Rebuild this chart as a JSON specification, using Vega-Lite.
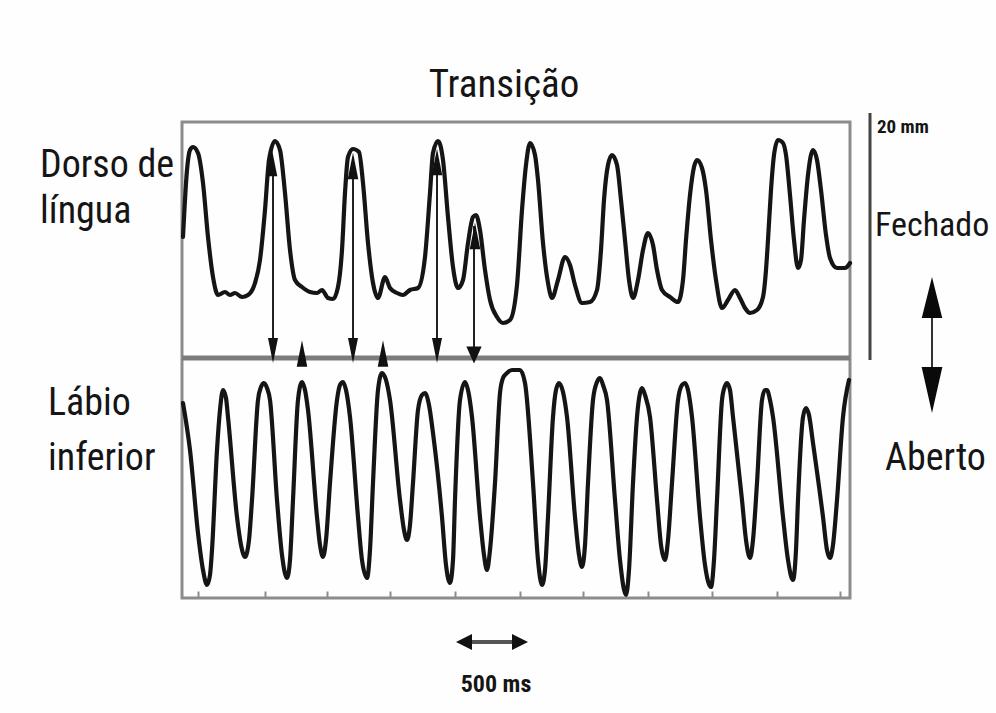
{
  "$schema": "https://vega.github.io/schema/vega-lite/v6.json",
  "width": 668,
  "height": 476,
  "autosize": {"type": "none"},
  "padding": {"left": 182, "top": 122, "right": 146, "bottom": 115},
  "background": "#fefefe",
  "config": {
    "view": {"stroke": "#8c8c8c", "strokeWidth": 3},
    "font": "Roboto Condensed, Liberation Sans"
  },
  "datasets": {
    "tongue": [
      {"t":8,"v":361},{"t":40,"v":428},{"t":64,"v":448},{"t":88,"v":451},{"t":128,"v":445},{"t":168,"v":415},{"t":208,"v":361},{"t":248,"v":321},{"t":288,"v":303},{"t":344,"v":306},{"t":384,"v":303},{"t":424,"v":305},{"t":480,"v":301},{"t":528,"v":303},{"t":584,"v":315},{"t":624,"v":338},{"t":664,"v":388},{"t":696,"v":438},{"t":744,"v":457},{"t":784,"v":448},{"t":824,"v":405},{"t":864,"v":348},{"t":904,"v":318},{"t":960,"v":311},{"t":1024,"v":306},{"t":1080,"v":305},{"t":1120,"v":308},{"t":1168,"v":300},{"t":1208,"v":299},{"t":1248,"v":311},{"t":1280,"v":348},{"t":1304,"v":405},{"t":1328,"v":441},{"t":1368,"v":449},{"t":1416,"v":446},{"t":1448,"v":415},{"t":1488,"v":355},{"t":1528,"v":315},{"t":1568,"v":300},{"t":1624,"v":321},{"t":1664,"v":310},{"t":1720,"v":305},{"t":1768,"v":303},{"t":1824,"v":308},{"t":1888,"v":310},{"t":1944,"v":341},{"t":1984,"v":405},{"t":2008,"v":445},{"t":2048,"v":457},{"t":2088,"v":438},{"t":2128,"v":381},{"t":2168,"v":331},{"t":2208,"v":310},{"t":2248,"v":318},{"t":2288,"v":355},{"t":2328,"v":381},{"t":2352,"v":383},{"t":2384,"v":368},{"t":2424,"v":328},{"t":2464,"v":298},{"t":2520,"v":281},{"t":2568,"v":275},{"t":2624,"v":278},{"t":2680,"v":313},{"t":2720,"v":388},{"t":2752,"v":433},{"t":2784,"v":455},{"t":2824,"v":443},{"t":2848,"v":418},{"t":2888,"v":355},{"t":2928,"v":315},{"t":2960,"v":300},{"t":3008,"v":318},{"t":3064,"v":341},{"t":3104,"v":333},{"t":3144,"v":313},{"t":3200,"v":295},{"t":3264,"v":296},{"t":3320,"v":308},{"t":3352,"v":348},{"t":3376,"v":398},{"t":3408,"v":433},{"t":3440,"v":443},{"t":3480,"v":433},{"t":3512,"v":398},{"t":3544,"v":358},{"t":3576,"v":318},{"t":3608,"v":300},{"t":3648,"v":318},{"t":3688,"v":348},{"t":3728,"v":365},{"t":3768,"v":353},{"t":3800,"v":328},{"t":3840,"v":308},{"t":3904,"v":301},{"t":3968,"v":296},{"t":4008,"v":318},{"t":4032,"v":358},{"t":4064,"v":403},{"t":4096,"v":431},{"t":4120,"v":438},{"t":4160,"v":430},{"t":4192,"v":408},{"t":4232,"v":358},{"t":4272,"v":318},{"t":4320,"v":290},{"t":4368,"v":298},{"t":4424,"v":308},{"t":4464,"v":300},{"t":4504,"v":290},{"t":4544,"v":285},{"t":4600,"v":288},{"t":4648,"v":301},{"t":4672,"v":328},{"t":4688,"v":358},{"t":4712,"v":408},{"t":4736,"v":443},{"t":4768,"v":458},{"t":4808,"v":455},{"t":4832,"v":443},{"t":4864,"v":403},{"t":4896,"v":358},{"t":4928,"v":330},{"t":4952,"v":338},{"t":4976,"v":378},{"t":5008,"v":423},{"t":5048,"v":448},{"t":5080,"v":438},{"t":5112,"v":408},{"t":5152,"v":363},{"t":5184,"v":340},{"t":5240,"v":330},{"t":5304,"v":330},{"t":5344,"v":335}
    ],
    "lip": [
      {"t":8,"v":195},{"t":64,"v":148},{"t":128,"v":65},{"t":168,"v":28},{"t":200,"v":13},{"t":224,"v":23},{"t":240,"v":48},{"t":280,"v":148},{"t":304,"v":188},{"t":328,"v":208},{"t":352,"v":200},{"t":368,"v":181},{"t":440,"v":81},{"t":472,"v":53},{"t":504,"v":41},{"t":536,"v":58},{"t":560,"v":98},{"t":608,"v":198},{"t":632,"v":211},{"t":656,"v":215},{"t":680,"v":210},{"t":704,"v":198},{"t":760,"v":98},{"t":800,"v":43},{"t":840,"v":20},{"t":864,"v":38},{"t":888,"v":98},{"t":928,"v":198},{"t":960,"v":216},{"t":984,"v":208},{"t":1008,"v":188},{"t":1080,"v":81},{"t":1104,"v":53},{"t":1128,"v":41},{"t":1152,"v":58},{"t":1184,"v":115},{"t":1240,"v":198},{"t":1264,"v":213},{"t":1288,"v":216},{"t":1312,"v":208},{"t":1344,"v":181},{"t":1408,"v":81},{"t":1440,"v":38},{"t":1480,"v":20},{"t":1504,"v":48},{"t":1528,"v":115},{"t":1568,"v":208},{"t":1600,"v":225},{"t":1632,"v":218},{"t":1664,"v":198},{"t":1744,"v":98},{"t":1776,"v":68},{"t":1800,"v":58},{"t":1824,"v":73},{"t":1848,"v":115},{"t":1888,"v":188},{"t":1920,"v":203},{"t":1944,"v":205},{"t":1976,"v":193},{"t":2008,"v":165},{"t":2080,"v":81},{"t":2112,"v":33},{"t":2144,"v":15},{"t":2168,"v":38},{"t":2184,"v":98},{"t":2224,"v":198},{"t":2264,"v":216},{"t":2288,"v":208},{"t":2320,"v":181},{"t":2384,"v":81},{"t":2416,"v":43},{"t":2440,"v":28},{"t":2464,"v":48},{"t":2504,"v":115},{"t":2544,"v":205},{"t":2568,"v":220},{"t":2600,"v":225},{"t":2640,"v":228},{"t":2680,"v":228},{"t":2704,"v":228},{"t":2744,"v":215},{"t":2808,"v":115},{"t":2848,"v":38},{"t":2880,"v":13},{"t":2904,"v":28},{"t":2928,"v":81},{"t":2968,"v":181},{"t":2992,"v":208},{"t":3016,"v":215},{"t":3048,"v":206},{"t":3080,"v":181},{"t":3144,"v":81},{"t":3176,"v":43},{"t":3200,"v":31},{"t":3224,"v":53},{"t":3248,"v":115},{"t":3288,"v":198},{"t":3320,"v":216},{"t":3344,"v":220},{"t":3368,"v":213},{"t":3400,"v":198},{"t":3464,"v":98},{"t":3504,"v":38},{"t":3552,"v":3},{"t":3576,"v":28},{"t":3608,"v":115},{"t":3640,"v":181},{"t":3664,"v":205},{"t":3680,"v":210},{"t":3704,"v":203},{"t":3744,"v":181},{"t":3800,"v":98},{"t":3832,"v":53},{"t":3864,"v":38},{"t":3888,"v":58},{"t":3920,"v":115},{"t":3968,"v":198},{"t":4000,"v":213},{"t":4024,"v":215},{"t":4048,"v":208},{"t":4080,"v":181},{"t":4144,"v":81},{"t":4184,"v":33},{"t":4232,"v":11},{"t":4256,"v":38},{"t":4280,"v":98},{"t":4320,"v":198},{"t":4344,"v":212},{"t":4360,"v":215},{"t":4384,"v":208},{"t":4408,"v":181},{"t":4480,"v":98},{"t":4512,"v":58},{"t":4544,"v":40},{"t":4568,"v":58},{"t":4600,"v":115},{"t":4640,"v":198},{"t":4664,"v":208},{"t":4680,"v":208},{"t":4704,"v":198},{"t":4728,"v":181},{"t":4808,"v":81},{"t":4848,"v":38},{"t":4888,"v":18},{"t":4912,"v":48},{"t":4928,"v":98},{"t":4968,"v":181},{"t":4992,"v":190},{"t":5016,"v":183},{"t":5048,"v":155},{"t":5128,"v":81},{"t":5160,"v":48},{"t":5184,"v":40},{"t":5208,"v":53},{"t":5240,"v":98},{"t":5288,"v":181},{"t":5336,"v":218}
    ],
    "divider": [{"t":0,"t2":5344,"v":240}],
    "arrowShafts": [
      {"t":728,"v":433,"v2":248},{"t":1368,"v":433,"v2":248},{"t":2040,"v":436,"v2":248},{"t":2336,"v":372,"v2":248}
    ],
    "downHeads": [{"t":728,"v":247.5},{"t":1368,"v":247.5},{"t":2040,"v":247.5}],
    "bigDownHead": [{"t":2336,"v":243}],
    "upMarks": [{"t":960,"v":244.5},{"t":1608,"v":244.5},{"t":720,"v":435},{"t":1368,"v":432},{"t":2040,"v":436},{"t":2344,"v":362}],
    "scaleBar": [{"t":5504,"v":485,"v2":238}],
    "openShaft": [{"t":6000,"v":300,"v2":208}],
    "openUp": [{"t":6000,"v":300.5}],
    "openDown": [{"t":6000,"v":208}],
    "msShaft": [{"t":2264,"t2":2696,"v":-44}],
    "msLeft": [{"t":2256,"v":-44}],
    "msRight": [{"t":2704,"v":-44}],
    "bigLabels": [
      {"t":-1136,"v":421,"label":"Dorso de"},
      {"t":-1136,"v":375,"label":"língua"},
      {"t":-1072,"v":183,"label":"Lábio"},
      {"t":-1072,"v":128,"label":"inferior"},
      {"t":5624,"v":128,"label":"Aberto"}
    ],
    "closedLabel": [{"t":5544,"v":362,"label":"Fechado"}],
    "titleLabel": [{"t":2576,"v":501,"label":"Transição"}],
    "mmLabel": [{"t":5560,"v":465,"label":"20 mm"}],
    "msLabel": [{"t":2512,"v":-94,"label":"500 ms"}]
  },
  "encoding": {
    "x": {
      "field": "t", "type": "quantitative",
      "scale": {"domain": [0, 5344], "nice": false, "zero": false},
      "axis": {"values": [128, 664, 1160, 1664, 2184, 2704, 3208, 3728, 4240, 4760, 5264], "labels": false, "title": null, "domain": false, "grid": false, "tickSize": -7, "tickColor": "#8c8c8c", "tickWidth": 2}
    },
    "y": {
      "field": "v", "type": "quantitative",
      "scale": {"domain": [0, 476], "nice": false, "zero": false},
      "axis": null
    }
  },
  "layer": [
    {"data": {"name": "divider"}, "mark": {"type": "rule", "color": "#7c7c7c", "strokeWidth": 5}, "encoding": {"x2": {"field": "t2"}}},
    {"data": {"name": "tongue"}, "mark": {"type": "line", "color": "#151515", "strokeWidth": 4.2, "interpolate": "monotone", "strokeJoin": "round", "strokeCap": "round"}},
    {"data": {"name": "lip"}, "mark": {"type": "line", "color": "#151515", "strokeWidth": 4.2, "interpolate": "monotone", "strokeJoin": "round", "strokeCap": "round"}},
    {"data": {"name": "arrowShafts"}, "mark": {"type": "rule", "color": "#222", "strokeWidth": 2}, "encoding": {"y2": {"field": "v2"}}},
    {"data": {"name": "downHeads"}, "mark": {"type": "point", "shape": "M-0.4,-1L0.4,-1L0,1Z", "filled": true, "size": 625, "color": "#111", "opacity": 1}},
    {"data": {"name": "bigDownHead"}, "mark": {"type": "point", "shape": "M-0.9,-1L0.9,-1L0,1Z", "filled": true, "size": 289, "color": "#111", "opacity": 1}},
    {"data": {"name": "upMarks"}, "mark": {"type": "point", "shape": "M-0.4,1L0.4,1L0,-1Z", "filled": true, "size": 700, "color": "#111", "opacity": 1}},
    {"data": {"name": "scaleBar"}, "mark": {"type": "rule", "color": "#444", "strokeWidth": 3}, "encoding": {"y2": {"field": "v2"}}},
    {"data": {"name": "openShaft"}, "mark": {"type": "rule", "color": "#333", "strokeWidth": 2}, "encoding": {"y2": {"field": "v2"}}},
    {"data": {"name": "openUp"}, "mark": {"type": "point", "shape": "M-0.5,1L0.5,1L0,-1Z", "filled": true, "size": 1681, "color": "#0a0a0a", "opacity": 1}},
    {"data": {"name": "openDown"}, "mark": {"type": "point", "shape": "M-0.45,-1L0.45,-1L0,1Z", "filled": true, "size": 2116, "color": "#0a0a0a", "opacity": 1}},
    {"data": {"name": "msShaft"}, "mark": {"type": "rule", "color": "#555", "strokeWidth": 4}, "encoding": {"x2": {"field": "t2"}}},
    {"data": {"name": "msLeft"}, "mark": {"type": "point", "shape": "M-1,0L1,-1L1,1Z", "filled": true, "size": 256, "color": "#111", "opacity": 1}},
    {"data": {"name": "msRight"}, "mark": {"type": "point", "shape": "M1,0L-1,-1L-1,1Z", "filled": true, "size": 256, "color": "#111", "opacity": 1}},
    {"data": {"name": "bigLabels"}, "mark": {"type": "text", "align": "left", "baseline": "alphabetic", "fontSize": 38, "color": "#151515"}, "encoding": {"text": {"field": "label"}}},
    {"data": {"name": "closedLabel"}, "mark": {"type": "text", "align": "left", "baseline": "alphabetic", "fontSize": 34, "color": "#151515"}, "encoding": {"text": {"field": "label"}}},
    {"data": {"name": "titleLabel"}, "mark": {"type": "text", "align": "center", "baseline": "alphabetic", "fontSize": 39, "color": "#151515"}, "encoding": {"text": {"field": "label"}}},
    {"data": {"name": "mmLabel"}, "mark": {"type": "text", "align": "left", "baseline": "alphabetic", "fontSize": 19, "fontWeight": "bold", "color": "#151515"}, "encoding": {"text": {"field": "label"}}},
    {"data": {"name": "msLabel"}, "mark": {"type": "text", "align": "center", "baseline": "alphabetic", "fontSize": 24, "fontWeight": "bold", "color": "#151515"}, "encoding": {"text": {"field": "label"}}}
  ]
}
